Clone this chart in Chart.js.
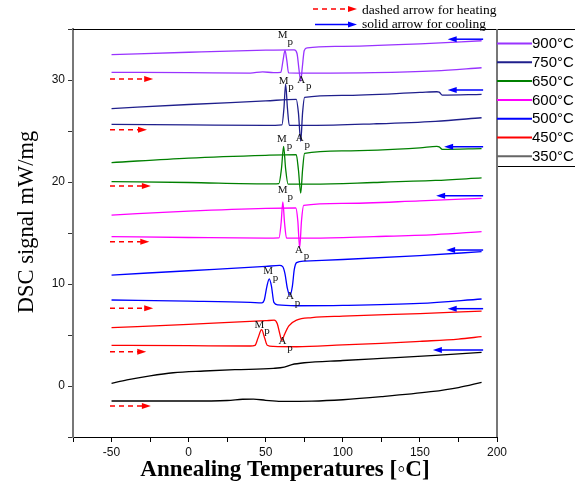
<!DOCTYPE html>
<html>
<head>
<meta charset="utf-8">
<title>DSC curves</title>
<style>
html,body{margin:0;padding:0;background:#fff;}
canvas{display:block;}
</style>
</head>
<body>
<canvas id="chart" width="575" height="492"></canvas>
<script src="https://cdn.jsdelivr.net/npm/chart.js"></script>
<script>
// annealing temperatures (legend) and colours
const temps = ['900°C','750°C','650°C','600°C','500°C','450°C','350°C'];
const colors = ['#9933ff','#1f1f8c','#008000','#ff00ff','#0000ff','#ff0000','#000000'];

// heating curves (lower of each pair), [temperature, signal]
const heat900 = [[-50,30.75],[0,30.72],[40,30.68],[48,30.8],[55,30.72],[59.8,30.75],[61.2,31.9],[62.5,32.9],[63.7,31.9],[64.8,30.7],[80,30.68],[120,30.72],[160,30.9],[190,31.2]];
const heat750 = [[-50,25.65],[0,25.6],[50,25.55],[60.5,25.6],[61.8,27.2],[62.9,29.6],[64.1,27.2],[65.3,25.55],[80,25.55],[120,25.7],[160,25.95],[190,26.3]];
const heat650 = [[-50,20.03],[0,19.95],[50,19.82],[58.5,19.85],[60.2,21.3],[61.6,23.5],[62.9,21.3],[64.5,19.8],[80,19.8],[120,19.95],[160,20.15],[190,20.4]];
const heat600 = [[-50,14.64],[0,14.56],[50,14.5],[58.6,14.52],[60,16.0],[61.1,18.05],[62.2,16.0],[63.5,14.5],[80,14.5],[120,14.65],[160,14.85],[190,15.13]];
const heat500 = [[-50,8.43],[0,8.32],[40,8.2],[47.5,8.15],[49,8.4],[50.8,9.8],[52.3,10.5],[53.7,9.8],[55.3,8.2],[58,7.95],[70,7.87],[100,7.9],[150,8.1],[190,8.53]];
const heat450 = [[-50,3.99],[0,3.95],[40,3.92],[43,3.98],[45,4.7],[47.3,5.52],[49.3,4.7],[51,4.0],[55,3.88],[70,3.85],[100,4.03],[125,4.18],[150,4.38],[175,4.6],[190,4.84]];
const heat350 = [[-50,-1.47],[0,-1.47],[25,-1.42],[35,-1.3],[42,-1.28],[50,-1.4],[60,-1.5],[80,-1.48],[100,-1.35],[125,-1.05],[157,-0.56],[175,-0.15],[190,0.36]];

// cooling curves (upper of each pair)
const cool900 = [[-50,32.48],[0,32.72],[50,32.92],[68.5,32.95],[70.3,32.6],[71.6,31.0],[72.7,29.9],[73.7,31.2],[75,32.9],[77,33.15],[100,33.3],[150,33.55],[190,33.85]];
const cool750 = [[-50,27.2],[0,27.6],[50,27.95],[69.8,28.1],[71.2,26.8],[72.7,24.0],[73.9,26.8],[75.2,28.3],[100,28.5],[150,28.78],[161,28.85],[162.5,28.82],[164.5,28.52],[190,28.6]];
const cool650 = [[-50,21.9],[0,22.35],[50,22.62],[69.8,22.68],[71.2,21.2],[72.7,18.9],[73.9,21.2],[75.2,22.8],[100,23.05],[150,23.35],[161,23.5],[162.5,23.45],[164.5,23.2],[190,23.27]];
const cool600 = [[-50,16.76],[0,17.15],[50,17.42],[69.5,17.45],[70.8,16.2],[72,13.55],[73.2,16.2],[74.6,17.7],[100,17.9],[150,18.15],[190,18.4]];
const cool500 = [[-50,10.88],[0,11.3],[50,11.72],[59,11.82],[61,11.7],[62.5,11.0],[64,9.6],[65.7,8.9],[67.3,9.8],[68.5,11.4],[70,12.1],[75,12.25],[100,12.4],[150,12.78],[190,13.17]];
const cool450 = [[-50,5.72],[0,6.05],[50,6.4],[55.5,6.45],[57.5,6.1],[59,5.2],[60.5,4.45],[62,5.0],[65,5.9],[70,6.45],[80,6.7],[100,6.85],[150,7.1],[190,7.35]];
const cool350 = [[-50,0.26],[-40,0.6],[-25,1.0],[-10,1.3],[10,1.47],[30,1.6],[55,1.73],[62,1.85],[67,2.1],[75,2.28],[100,2.5],[125,2.71],[160,3.0],[190,3.3]];

const heating = [heat900, heat750, heat650, heat600, heat500, heat450, heat350];
const cooling = [cool900, cool750, cool650, cool600, cool500, cool450, cool350];

// direction arrows: heating (red dashed, to the right), cooling (blue, to the left)
const heatArrowY = [30.1, 25.13, 19.6, 14.15, 7.62, 3.36, -1.96];
const heatArrowStart = -51;
const heatArrowEnd = [-23, -27, -24.5, -25.5, -23, -27.5, -24.5];
const coolArrowY = [34.0, 29.02, 23.46, 18.66, 13.33, 7.58, 3.53];
const coolArrowStart = 191;
const coolArrowEnd = [168, 168, 165.7, 160.5, 167, 168, 158.4];

// peak labels: letter, temperature, signal
const peakLabels = [
  ['M',61.0,34.36],['A',73.1,30.03],['M',61.6,29.9],['M',60.5,24.17],['A',72.0,24.28],
  ['M',61.0,19.19],['A',71.6,13.36],['M',51.5,11.25],['A',65.7,8.79],['M',45.9,6.01],['A',60.8,4.38]
];

const datasets = [];
temps.forEach((t, i) => {
  [heating[i], cooling[i]].forEach(c => {
    datasets.push({
      label: t,
      data: c.map(p => ({x: p[0], y: p[1]})),
      borderColor: colors[i],
      borderWidth: 1.3,
      pointRadius: 0,
      fill: false,
      cubicInterpolationMode: 'monotone'
    });
  });
});

function arrow(ctx, x1, y, x2, color, dashed){
  const dir = x2 > x1 ? 1 : -1;
  ctx.save();
  ctx.strokeStyle = color; ctx.fillStyle = color; ctx.lineWidth = 1.5;
  if(dashed) ctx.setLineDash([5,4]);
  ctx.beginPath(); ctx.moveTo(x1, y); ctx.lineTo(x2 - dir*6, y); ctx.stroke();
  ctx.setLineDash([]);
  ctx.beginPath(); ctx.moveTo(x2, y); ctx.lineTo(x2 - dir*9, y - 3); ctx.lineTo(x2 - dir*9, y + 3); ctx.closePath(); ctx.fill();
  ctx.restore();
}

const extras = {
  id: 'extras',
  afterDatasetsDraw(chart){
    const ctx = chart.ctx, xs = chart.scales.x, ys = chart.scales.y;
    heatArrowY.forEach((v, i) => arrow(ctx, xs.getPixelForValue(heatArrowStart), ys.getPixelForValue(v), xs.getPixelForValue(heatArrowEnd[i]), '#ff0000', true));
    coolArrowY.forEach((v, i) => arrow(ctx, xs.getPixelForValue(coolArrowStart), ys.getPixelForValue(v), xs.getPixelForValue(coolArrowEnd[i]), '#0000ff', false));
    ctx.save();
    ctx.fillStyle = '#111';
    ctx.textAlign = 'center'; ctx.textBaseline = 'middle';
    peakLabels.forEach(l => {
      const px = xs.getPixelForValue(l[1]), py = ys.getPixelForValue(l[2]);
      ctx.font = '11px "Liberation Serif", "Times New Roman", serif';
      ctx.fillText(l[0], px, py);
      ctx.fillText('p', px + 7.5, py + 6.5);
    });
    ctx.restore();
  },
  afterDraw(chart){
    const ctx = chart.ctx, a = chart.chartArea;
    ctx.save();
    // frame top / right
    ctx.strokeStyle = '#000'; ctx.lineWidth = 1;
    ctx.beginPath(); ctx.moveTo(a.left, a.top + 0.5); ctx.lineTo(a.right, a.top + 0.5); ctx.stroke();
    ctx.strokeStyle = '#777'; ctx.lineWidth = 2;
    ctx.beginPath(); ctx.moveTo(a.right, a.top); ctx.lineTo(a.right, a.bottom); ctx.stroke();

    // legend box
    ctx.strokeStyle = '#000'; ctx.lineWidth = 1;
    ctx.strokeRect(a.right + 0.5, a.top + 0.5, 120, 137);
    ctx.strokeStyle = '#777'; ctx.lineWidth = 2;
    ctx.beginPath(); ctx.moveTo(a.right, a.top); ctx.lineTo(a.right, a.bottom); ctx.stroke();
    ctx.font = '15px "Liberation Sans", Arial, sans-serif';
    ctx.textAlign = 'left'; ctx.textBaseline = 'middle';
    temps.forEach((t, i) => {
      const y = a.top + 14.5 + i * 18.8;
      ctx.strokeStyle = i === 6 ? '#666' : colors[i]; ctx.lineWidth = 2;
      ctx.beginPath(); ctx.moveTo(a.right, y); ctx.lineTo(a.right + 35, y); ctx.stroke();
      ctx.fillStyle = '#000';
      ctx.fillText(t, a.right + 35, y + 0.5);
    });

    // arrow key above plot
    arrow(ctx, 313, 9, 357, '#ff0000', true);
    arrow(ctx, 315, 24.5, 357, '#0000ff', false);
    ctx.fillStyle = '#000';
    ctx.font = '13.5px "Liberation Serif", "Times New Roman", serif';
    ctx.textBaseline = 'alphabetic';
    ctx.fillText('dashed arrow for heating', 362, 14);
    ctx.fillText('solid arrow for cooling', 362, 27.5);

    // axis titles
    ctx.textAlign = 'center';
    ctx.font = 'bold 23px "Liberation Serif", "Times New Roman", serif';
    ctx.fillText('Annealing Temperatures [◦C]', (a.left + a.right) / 2, 476);
    ctx.translate(33, 222);
    ctx.rotate(-Math.PI / 2);
    ctx.font = '22.5px "Liberation Serif", "Times New Roman", serif';
    ctx.fillText('DSC signal mW/mg', 0, 0);
    ctx.restore();
  }
};

new Chart(document.getElementById('chart').getContext('2d'), {
  type: 'line',
  data: {datasets},
  plugins: [extras],
  options: {
    responsive: false,
    animation: false,
    layout: {padding: {top: 29, right: 78, left: 0, bottom: 0}},
    plugins: {legend: {display: false}, tooltip: {enabled: false}},
    scales: {
      x: {
        type: 'linear', min: -75, max: 200,
        ticks: {stepSize: 25, autoSkip: false, maxRotation: 0, padding: 3, color: '#111',
          font: {family: '"Liberation Sans", Arial, sans-serif', size: 12},
          callback: v => (v % 50 === 0 ? v : '')},
        grid: {drawOnChartArea: false, drawTicks: true, tickLength: 5, color: '#000'},
        border: {display: true, color: '#000', width: 1},
        afterFit(s){ s.height = 55; }
      },
      y: {
        min: -5, max: 35,
        ticks: {stepSize: 5, autoSkip: false, padding: 3, color: '#111',
          font: {family: '"Liberation Sans", Arial, sans-serif', size: 12},
          callback: v => (v % 10 === 0 ? v : '')},
        grid: {drawOnChartArea: false, drawTicks: true, tickLength: 5, color: '#333'},
        border: {display: true, color: '#777', width: 2},
        afterFit(s){ s.width = 73; }
      }
    }
  }
});
</script>
</body>
</html>
